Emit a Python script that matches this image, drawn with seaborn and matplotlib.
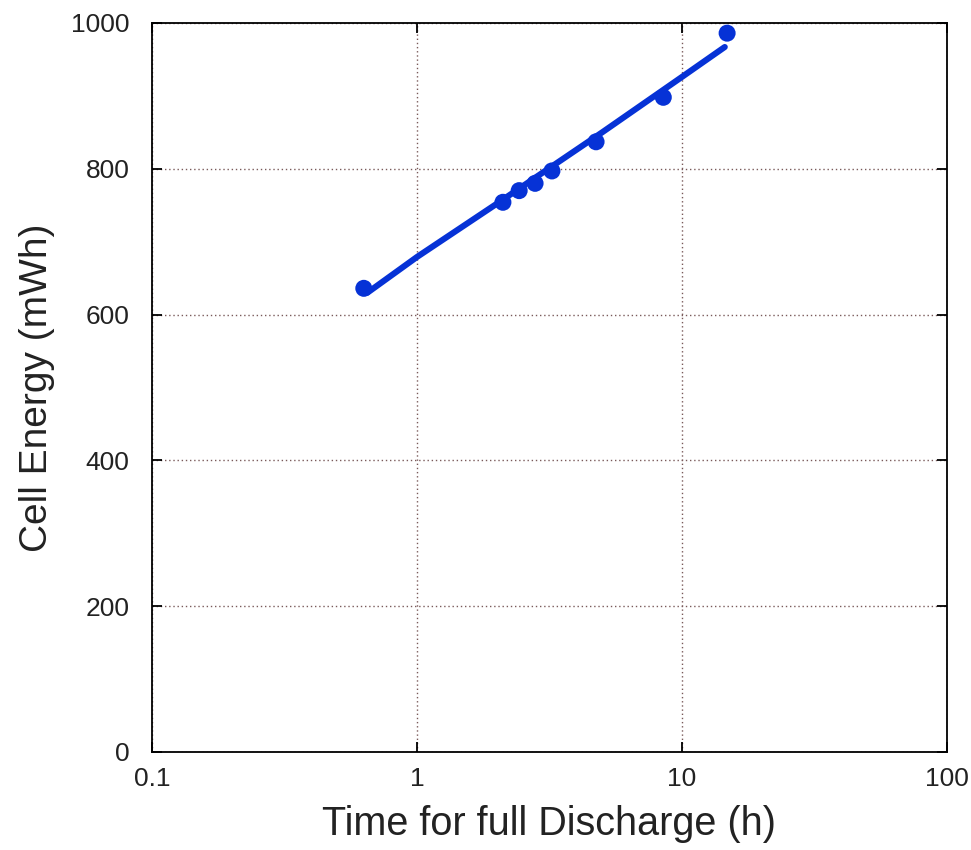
import matplotlib
matplotlib.use("Agg")
import matplotlib.pyplot as plt
import seaborn as sns
import pandas as pd

# Measured points
time_h = [0.63, 2.11, 2.43, 2.79, 3.23, 4.74, 8.5, 14.8]
energy_mwh = [636, 754, 770, 780, 797, 837, 898, 986]

# Fitted (hand-drawn) trend line
fit_time = [0.65, 1.0, 2.0, 5.0, 10.0, 14.5]
fit_energy = [630, 679, 752, 850, 926, 967]

x_ticks = [0.1, 1, 10, 100]
x_tick_labels = ["0.1", "1", "10", "100"]
y_ticks = [0, 200, 400, 600, 800, 1000]

sns.set_theme(style="white")
plt.rcParams["font.family"] = ["Liberation Sans", "DejaVu Sans"]

fig = plt.figure(figsize=(9.71, 8.5), dpi=100)
ax = fig.add_axes([0.1565, 0.1153, 0.9753 - 0.1565, 0.973 - 0.1153])

blue = "#0632d6"
df_pts = pd.DataFrame({"t": time_h, "e": energy_mwh})
df_fit = pd.DataFrame({"t": fit_time, "e": fit_energy})

sns.lineplot(data=df_fit, x="t", y="e", ax=ax, color=blue, linewidth=4.4,
             solid_capstyle="round", zorder=3)
sns.scatterplot(data=df_pts, x="t", y="e", ax=ax, color=blue, s=150,
                edgecolor="none", zorder=4)

ax.set_xscale("log")
ax.set_xlim(0.1, 100)
ax.set_ylim(0, 1000)
ax.set_xticks(x_ticks)
ax.set_xticklabels(x_tick_labels)
ax.set_yticks(y_ticks)
ax.minorticks_off()

ax.grid(True, which="major", linestyle=(0, (1, 2)), color="#7a5a5a", linewidth=1.0)
for s in ax.spines.values():
    s.set_color("black")
    s.set_linewidth(1.3)

ax.tick_params(axis="both", which="major", direction="in", length=7, width=1.3,
               color="black", labelsize=19, labelcolor="#222222",
               top=True, right=True, bottom=True, left=True)
ax.tick_params(axis="x", pad=11)
ax.tick_params(axis="y", pad=16)

ax.set_xlabel("Time for full Discharge (h)", fontsize=28.5, color="#222222", labelpad=10)
ax.set_ylabel("Cell Energy (mWh)", fontsize=28, color="#222222", labelpad=12)

fig.savefig("out.png", dpi=100)
